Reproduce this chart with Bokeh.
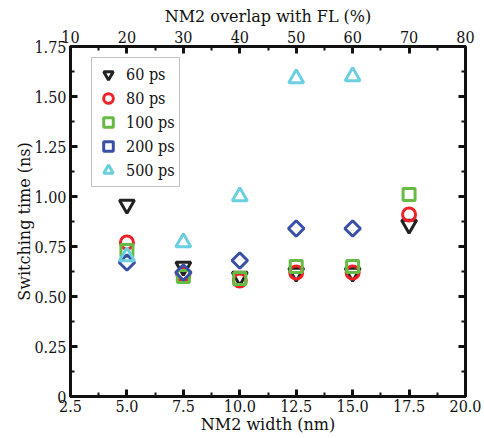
from bokeh.plotting import figure
from bokeh.models import (Range1d, LinearAxis, FixedTicker, PrintfTickFormatter,
                          Legend, LegendItem)
from bokeh.embed import file_html
from bokeh.resources import INLINE
import math

# ---- data ----
widths6 = [5.0, 7.5, 10.0, 12.5, 15.0, 17.5]
widths5 = [5.0, 7.5, 10.0, 12.5, 15.0]
t60 = [0.96, 0.65, 0.60, 0.62, 0.62, 0.86]
t80 = [0.77, 0.61, 0.58, 0.62, 0.62, 0.91]
t100 = [0.73, 0.60, 0.59, 0.65, 0.65, 1.01]
t200 = [0.67, 0.62, 0.68, 0.84, 0.84]
t500 = [0.70, 0.77, 1.00, 1.59, 1.60]

x_ticks = [2.5, 5.0, 7.5, 10.0, 12.5, 15.0, 17.5, 20.0]
y_ticks = [0, 0.25, 0.5, 0.75, 1.0, 1.25, 1.5, 1.75]
top_ticks = [10, 20, 30, 40, 50, 60, 70, 80]

TITLE_FONT = "DejaVu Serif"
TICK_FONT = "DejaVu Serif Condensed"
INK = "#111111"

X0, X1 = 2.5, 20.0
p = figure(width=484, height=438, output_backend="svg", toolbar_location=None,
           x_range=Range1d(X0, X1), y_range=Range1d(0, 1.75),
           min_border_left=70, min_border_right=19, min_border_top=46,
           min_border_bottom=42, x_axis_location=None, y_axis_location=None)
p.xgrid.visible = False
p.ygrid.visible = False
p.outline_line_color = INK
p.outline_line_width = 3
p.extra_x_ranges = {"top": Range1d(10, 80)}


def style(ax):
    ax.axis_line_width = 3
    ax.axis_line_color = INK
    ax.major_tick_in = 7
    ax.major_tick_out = 0
    ax.minor_tick_in = 4
    ax.minor_tick_out = 0
    ax.major_tick_line_width = 3
    ax.minor_tick_line_width = 2
    ax.major_tick_line_color = INK
    ax.minor_tick_line_color = INK
    ax.major_label_text_font = TICK_FONT
    ax.major_label_text_font_size = "16px"
    ax.major_label_text_color = INK
    ax.axis_label_text_font = TITLE_FONT
    ax.axis_label_text_font_size = "16px"
    ax.axis_label_text_font_style = "normal"
    ax.axis_label_text_color = INK


def minors(ticks):
    return [(a + b) / 2 for a, b in zip(ticks[:-1], ticks[1:])]


xb = LinearAxis(axis_label="NM2 width (nm)",
                ticker=FixedTicker(ticks=x_ticks, minor_ticks=minors(x_ticks)),
                formatter=PrintfTickFormatter(format="%.1f"))
style(xb)
xb.major_label_standoff = 3
xb.axis_label_standoff = 0
p.add_layout(xb, "below")

xt = LinearAxis(x_range_name="top", axis_label="NM2 overlap with FL (%)",
                ticker=FixedTicker(ticks=top_ticks, minor_ticks=minors(top_ticks)))
style(xt)
xt.major_label_standoff = 4
xt.axis_label_standoff = 2
p.add_layout(xt, "above")

yl = LinearAxis(axis_label="Switching time (ns)",
                ticker=FixedTicker(ticks=y_ticks, minor_ticks=minors(y_ticks)),
                formatter=PrintfTickFormatter(format="%.2f"))
style(yl)
yl.major_label_overrides = {0: "0"}
yl.major_label_standoff = 4
yl.axis_label_standoff = -3
p.add_layout(yl, "left")

p.scatter([X1] * len(y_ticks), y_ticks, marker="dash", size=14,
          line_color=INK, line_width=3)
ym = minors(y_ticks)
p.scatter([X1] * len(ym), ym, marker="dash", size=8,
          line_color=INK, line_width=2)

LW = 3
r60 = p.scatter(widths6, t60, marker="inverted_triangle", size=15, fill_color=None,
                line_color="#222222", line_width=LW)
r80 = p.scatter(widths6, t80, marker="circle", size=13, fill_color=None,
                line_color="#ee2228", line_width=LW)
r100 = p.scatter(widths6, t100, marker="square", size=12, fill_color=None,
                 line_color="#66bb44", line_width=LW)
r200 = p.scatter(widths5, t200, marker="square", size=11, angle=math.pi / 4,
                 fill_color=None, line_color="#3a50a8", line_width=LW)
r500 = p.scatter(widths5, t500, marker="triangle", size=15, fill_color=None,
                 line_color="#6ccfe0", line_width=LW)

legend = Legend(items=[
    LegendItem(label="60 ps", renderers=[r60]),
    LegendItem(label="80 ps", renderers=[r80]),
    LegendItem(label="100 ps", renderers=[r100]),
    LegendItem(label="200 ps", renderers=[r200]),
    LegendItem(label="500 ps", renderers=[r500]),
], location=(21, 209))
legend.label_text_font = TICK_FONT
legend.label_text_font_size = "16px"
legend.label_text_color = INK
legend.glyph_width = 24
legend.glyph_height = 24
legend.label_height = 24
legend.spacing = 0
legend.padding = 4
legend.label_standoff = 6
legend.margin = 0
legend.border_line_color = "#888888"
legend.border_line_width = 1
legend.background_fill_alpha = 1
p.add_layout(legend, "center")

open("out.html", "w").write(file_html(p, INLINE))
